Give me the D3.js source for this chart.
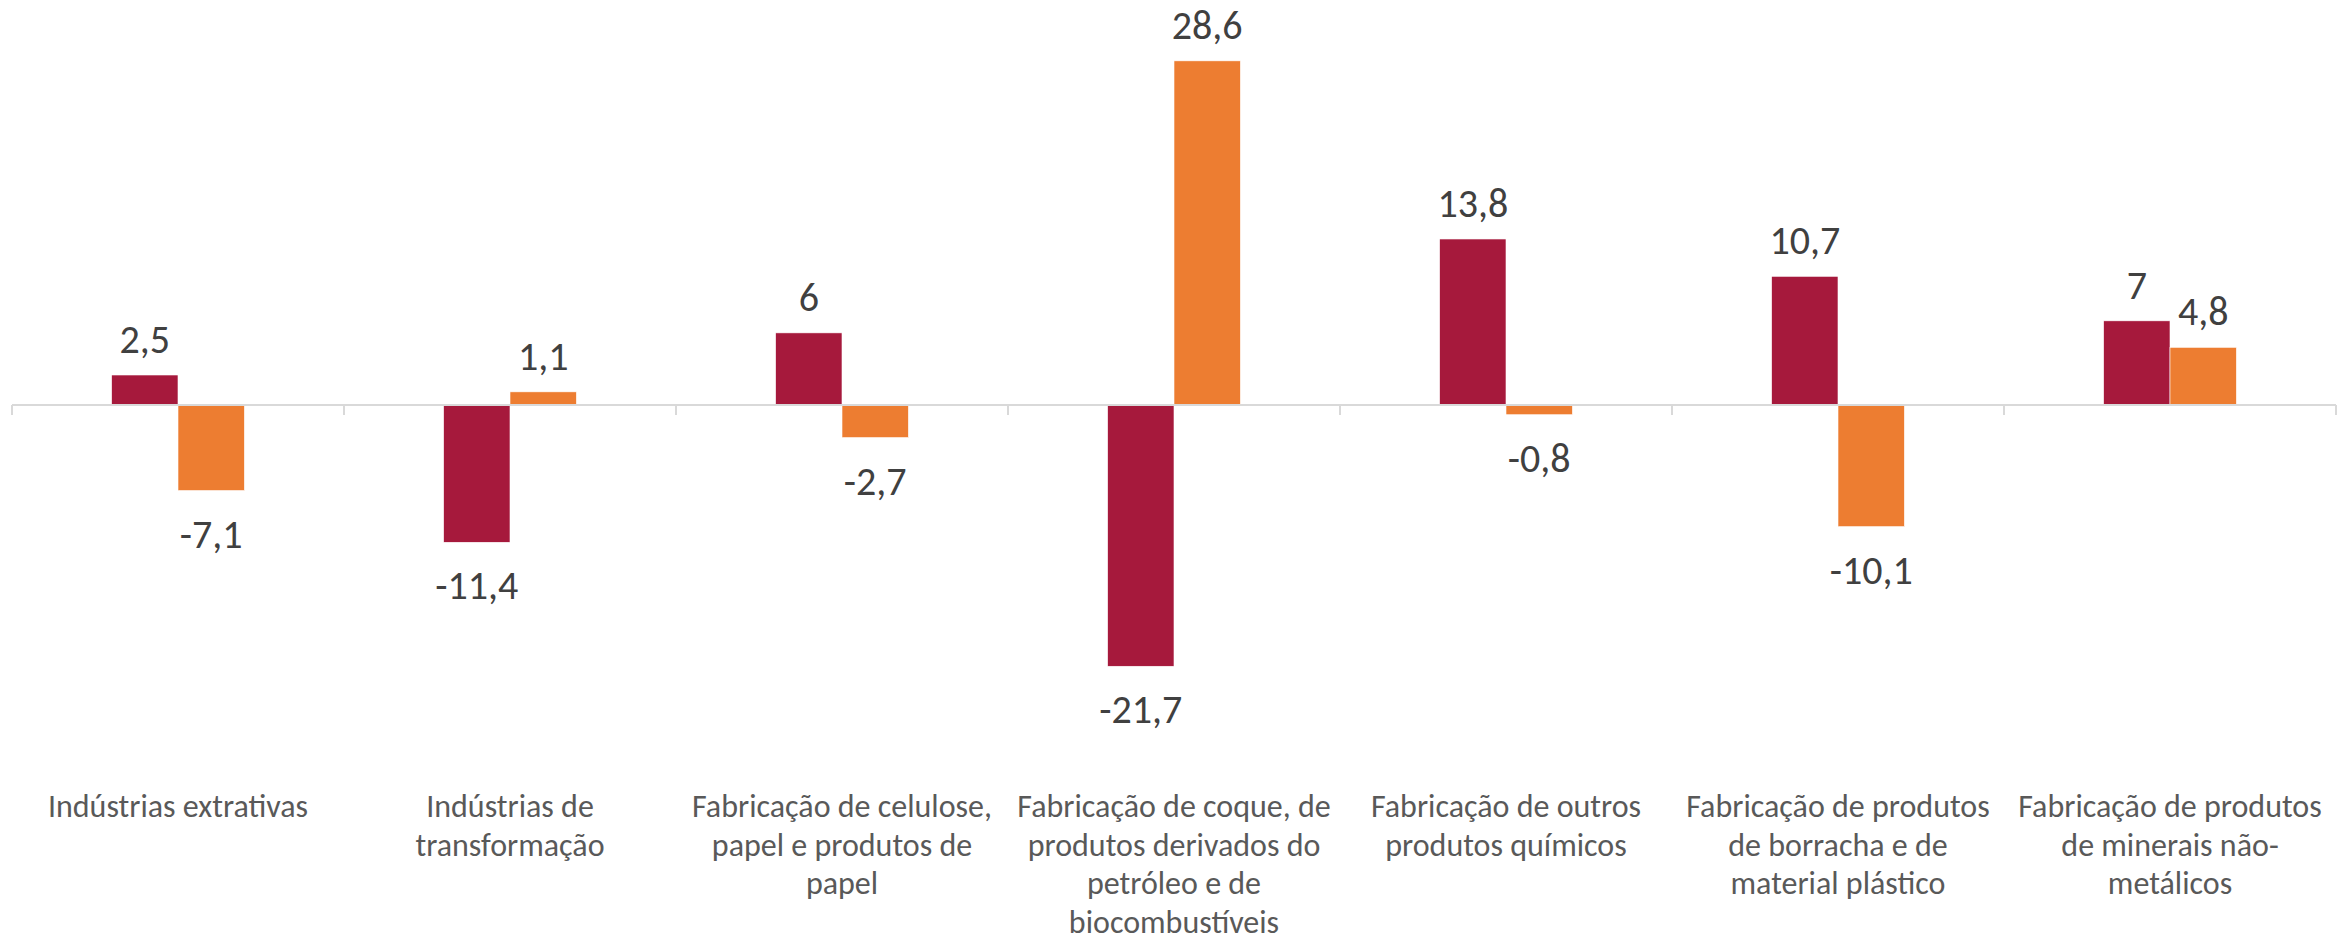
<!DOCTYPE html>
<html>
<head>
<meta charset="utf-8">
<script src="https://cdn.jsdelivr.net/npm/d3@7/dist/d3.min.js"></script>
<style>
  html, body { margin: 0; padding: 0; background: #fff; }
  svg { display: block; }
  text { font-family: Carlito, Calibri, Lato, sans-serif; }
</style>
</head>
<body>
<svg id="chart" width="2351" height="940"></svg>
<script>
// ---- data ----
const categories = [
  "Indústrias extrativas",
  "Indústrias de transformação",
  "Fabricação de celulose, papel e produtos de papel",
  "Fabricação de coque, de produtos derivados do petróleo e de biocombustíveis",
  "Fabricação de outros produtos químicos",
  "Fabricação de produtos de borracha e de material plástico",
  "Fabricação de produtos de minerais não-metálicos"
];
const categoryLines = [
  ["Indústrias extrativas"],
  ["Indústrias de", "transformação"],
  ["Fabricação de celulose,", "papel e produtos de", "papel"],
  ["Fabricação de coque, de", "produtos derivados do", "petróleo e de", "biocombustíveis"],
  ["Fabricação de outros", "produtos químicos"],
  ["Fabricação de produtos", "de borracha e de", "material plástico"],
  ["Fabricação de produtos", "de minerais não-", "metálicos"]
];
const seriesNames = ["Série 1", "Série 2"];
const series1 = [2.5, -11.4, 6, -21.7, 13.8, 10.7, 7];
const series2 = [-7.1, 1.1, -2.7, 28.6, -0.8, -10.1, 4.8];
const seriesColors = ["#A6193C", "#ED7D31"];

// ---- layout ----
const svg = d3.select("#chart");
const x = d3.scaleBand().domain(categories).range([12, 2336]).padding(0);
const xs = d3.scaleBand().domain(seriesNames).range([0, x.bandwidth()])
  .paddingInner(0).paddingOuter(1.5);
const y = d3.scaleLinear().domain([-25, 30]).range([706, 44]);

const rows = categories.map((c, i) => ({
  cat: c,
  vals: [
    { s: seriesNames[0], v: series1[i], color: seriesColors[0] },
    { s: seriesNames[1], v: series2[i], color: seriesColors[1] }
  ]
}));

const fmt = v => String(v).replace(".", ",");

// bars
const g = svg.append("g");
const groups = g.selectAll("g.cat").data(rows).join("g")
  .attr("class", "cat")
  .attr("transform", d => `translate(${x(d.cat)},0)`);

groups.selectAll("rect").data(d => d.vals).join("rect")
  .attr("x", d => xs(d.s))
  .attr("width", xs.bandwidth())
  .attr("y", d => Math.min(y(d.v), y(0)))
  .attr("height", d => Math.abs(y(d.v) - y(0)))
  .attr("fill", d => d.color)
  .attr("stroke", "#fff")
  .attr("stroke-width", 0.6);

// axis line + ticks
const axisColor = "#D9D9D9";
svg.append("line")
  .attr("x1", x.range()[0]).attr("x2", x.range()[1])
  .attr("y1", y(0)).attr("y2", y(0))
  .attr("stroke", axisColor).attr("stroke-width", 2);
const tickPos = categories.map(c => x(c)).concat([x.range()[1]]);
svg.selectAll("line.tick").data(tickPos).join("line")
  .attr("class", "tick")
  .attr("x1", d => d).attr("x2", d => d)
  .attr("y1", y(0)).attr("y2", y(0) + 10)
  .attr("stroke", axisColor).attr("stroke-width", 2);

// value labels
groups.selectAll("text.val").data(d => d.vals).join("text")
  .attr("class", "val")
  .attr("x", d => xs(d.s) + xs.bandwidth() / 2)
  .attr("y", d => d.v >= 0 ? y(d.v) - 22 : y(d.v) + 57)
  .attr("text-anchor", "middle")
  .attr("font-size", 40)
  .attr("fill", "#404040")
  .text(d => fmt(d.v));

// category labels
const catText = svg.selectAll("text.cat").data(rows).join("text")
  .attr("class", "cat")
  .attr("text-anchor", "middle")
  .attr("font-size", 32)
  .attr("fill", "#595959");
catText.each(function(d, i) {
  const t = d3.select(this);
  categoryLines[i].forEach((line, j) => {
    t.append("tspan")
      .attr("x", x(d.cat) + x.bandwidth() / 2)
      .attr("y", 817 + j * 38.5)
      .text(line);
  });
});
</script>
</body>
</html>
